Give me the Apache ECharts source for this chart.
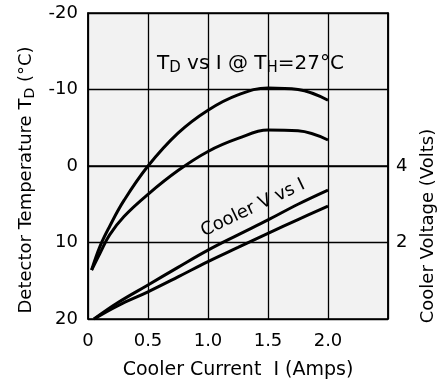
<!DOCTYPE html>
<html>
<head>
<meta charset="utf-8">
<script src="https://cdn.jsdelivr.net/npm/echarts@6/dist/echarts.min.js"></script>
<style>
  html, body { margin: 0; padding: 0; background: #fff; }
  #chart { width: 437px; height: 381px; }
</style>
</head>
<body>
<div id="chart"></div>
<script>
// detector temperature vs current (two bounding curves)
const currentTD = [0.03, 0.1, 0.18, 0.3, 0.5, 0.75, 1.0, 1.25, 1.5, 1.75, 2.0];
const tempColdest = [13.6, 10.5, 7.9, 4.5, 0, -4.3, -7.3, -9.3, -10.2, -10.0, -8.6];
const tempWarmest = [13.6, 11.4, 9.0, 6.6, 3.7, 0.6, -1.9, -3.6, -4.7, -4.6, -3.4];

// cooler voltage vs current (two bounding curves)
const currentV = [0.05, 0.25, 0.5, 0.75, 1.0, 1.25, 1.5, 1.75, 2.0];
const voltHigh = [0, 0.43, 0.89, 1.35, 1.8, 2.2, 2.59, 3.0, 3.37];
const voltLow = [0, 0.35, 0.71, 1.1, 1.5, 1.87, 2.24, 2.6, 2.95];

const xTickLabels = { 0: "0", 0.5: "0.5", 1: "1.0", 1.5: "1.5", 2: "2.0" };
const voltTickLabels = { 2: "2", 4: "4" };

const font = "'DejaVu Sans', sans-serif";
const pair = (xs, ys) => xs.map((x, i) => [x, ys[i]]);

const chart = echarts.init(document.getElementById("chart"));

const lineSeries = (data, yIndex) => ({
  type: "line",
  yAxisIndex: yIndex,
  data: data,
  smooth: 0.4,
  symbol: "none",
  silent: true,
  lineStyle: { color: "#000", width: 3 }
});

chart.setOption({
  animation: false,
  backgroundColor: "#fff",
  grid: {
    left: 88,
    right: 49,
    top: 13,
    bottom: 62,
    outerBoundsMode: "none",
    show: true,
    backgroundColor: "#f2f2f2",
    borderColor: "#000",
    borderWidth: 1.5
  },
  xAxis: {
    type: "value",
    min: 0,
    max: 2.5,
    interval: 0.5,
    name: "Cooler Current  I (Amps)",
    nameLocation: "middle",
    nameGap: 42,
    nameTextStyle: { color: "#000", fontSize: 19, fontFamily: font },
    axisLine: { lineStyle: { color: "#000", width: 1.5 } },
    axisTick: { show: false },
    axisLabel: {
      color: "#000",
      fontSize: 18,
      fontFamily: font,
      margin: 13,
      formatter: v => xTickLabels[v] || ""
    },
    splitLine: { show: true, lineStyle: { color: "#000", width: 1.3 } }
  },
  yAxis: [
    {
      type: "value",
      inverse: true,
      min: -20,
      max: 20,
      interval: 10,
      name: "{n|Detector Temperature T}{s|D}{n| (°C)}",
      nameLocation: "middle",
      nameRotate: 90,
      nameGap: 50,
      nameTextStyle: {
        color: "#000",
        fontFamily: font,
        padding: [0, 28, 0, 0],
        rich: {
          n: { fontSize: 18, fontFamily: font, color: "#000" },
          s: { fontSize: 14, fontFamily: font, color: "#000", verticalAlign: "bottom", padding: [9, 0, 0, 0] }
        }
      },
      axisLine: { show: true, lineStyle: { color: "#000", width: 1.5 } },
      axisTick: { show: false },
      axisLabel: { color: "#000", fontSize: 18, fontFamily: font, margin: 10 },
      splitLine: { show: true, lineStyle: { color: "#000", width: 1.3 } }
    },
    {
      type: "value",
      position: "right",
      min: 0,
      max: 8,
      interval: 2,
      name: "Cooler Voltage (Volts)",
      nameLocation: "middle",
      nameRotate: 90,
      nameGap: 31,
      nameTextStyle: { color: "#000", fontSize: 18, fontFamily: font, padding: [0, 120, 0, 0] },
      axisLine: { show: true, lineStyle: { color: "#000", width: 1.5 } },
      axisTick: { show: false },
      axisLabel: {
        color: "#000",
        fontSize: 18,
        fontFamily: font,
        margin: 8,
        formatter: v => voltTickLabels[v] || ""
      },
      splitLine: { show: false }
    }
  ],
  series: [
    lineSeries(pair(currentTD, tempColdest), 0),
    lineSeries(pair(currentTD, tempWarmest), 0),
    lineSeries(pair(currentV, voltHigh), 1),
    lineSeries(pair(currentV, voltLow), 1)
  ],
  graphic: [
    {
      type: "text",
      left: 157,
      top: 54,
      silent: true,
      style: {
        text: "{n|T}{s|D}{n| vs I @ T}{s|H}{n|=27°C}",
        fill: "#000",
        rich: {
          n: { fontSize: 20, fontFamily: font, fill: "#000" },
          s: { fontSize: 15, fontFamily: font, fill: "#000", verticalAlign: "bottom", padding: [9, 0, 0, 0] }
        }
      }
    },
    {
      type: "text",
      x: 253,
      y: 208,
      rotation: 25.5 * Math.PI / 180,
      silent: true,
      style: {
        text: "Cooler V vs I",
        fontSize: 18,
        fontFamily: font,
        fill: "#000",
        align: "center",
        verticalAlign: "middle"
      }
    }
  ]
});
</script>
</body>
</html>
